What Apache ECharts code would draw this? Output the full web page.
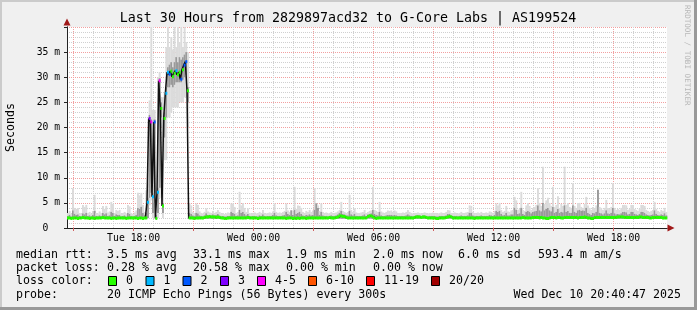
<!DOCTYPE html>
<html><head><meta charset="utf-8">
<script src="https://cdn.jsdelivr.net/npm/echarts@6/dist/echarts.min.js"></script>
<style>html,body{margin:0;padding:0;background:#f0f0f0;}#c{width:697px;height:310px;}</style>
</head><body><div id="c"></div>
<script>
// ---- sampling schedule (minutes from Tue 00:00) ----
const START_MIN = 880;   // Tue 14:40
const STEP_MIN = 5;      // 300 s probe step
const X_MIN = 880, X_MAX = 2680;

// ---- tick labels / grid positions ----
const xLabelValues = [1080, 1440, 1800, 2160, 2520];
const xLabelTexts = ['Tue 18:00', 'Wed 00:00', 'Wed 06:00', 'Wed 12:00', 'Wed 18:00'];
const majorGridX = [900, 1080, 1260, 1440, 1620, 1800, 1980, 2160, 2340, 2520];
const minorGridX = [900, 960, 1020, 1080, 1140, 1200, 1260, 1320, 1380, 1440, 1500, 1560, 1620, 1680, 1740,
  1800, 1860, 1920, 1980, 2040, 2100, 2160, 2220, 2280, 2340, 2400, 2460, 2520, 2580, 2640];
const yTickLabels = ['0  ', '5 m', '10 m', '15 m', '20 m', '25 m', '30 m', '35 m'];

// ---- median rtt (ms), one value per 5-minute step ----
const median = [
  2.0,2.0,1.9,2.0,2.0,2.0,1.9,2.0,2.0,2.1,2.0,2.0,2.0,1.9,2.0,2.0,1.9,2.0,2.0,2.0,
  2.0,2.1,2.0,2.0,2.0,2.0,1.9,2.0,2.0,1.9,2.0,2.0,2.0,2.0,2.0,1.9,2.0,2.0,2.0,2.0,
  2.0,2.0,1.9,2.0,2.0,1.9,2.0,2.0,5.1,21.8,21.1,6.2,21.1,1.9,7.1,29.3,23.8,4.4,21.8,26.8,
  31.0,30.6,31.2,30.1,30.8,31.3,30.5,31.0,29.6,31.5,32.4,33.1,27.3,2.0,2.0,2.0,1.9,2.0,2.0,2.0,
  2.0,2.0,2.1,2.2,2.2,2.3,2.2,2.2,2.2,2.1,2.2,2.1,2.0,2.0,1.9,1.9,2.0,2.0,2.0,2.0,
  2.0,2.0,2.0,2.0,2.0,2.0,2.0,2.0,2.1,2.0,2.0,2.0,2.0,2.0,1.9,2.0,2.0,2.0,2.0,2.0,
  2.0,2.0,2.0,2.0,2.0,2.0,2.0,2.0,2.0,2.0,2.0,1.9,2.0,2.0,2.0,1.9,2.0,1.9,2.0,1.9,
  2.0,2.0,2.0,1.9,2.0,2.0,2.0,2.0,2.0,2.0,2.0,2.0,2.0,2.0,2.0,2.0,2.0,2.1,2.0,2.0,
  2.0,2.1,2.2,2.4,2.4,2.3,2.3,2.1,2.0,2.0,2.0,2.0,2.0,2.0,2.0,2.0,2.0,2.0,2.0,2.0,
  2.3,2.4,2.4,2.2,2.0,1.9,2.0,2.0,2.0,2.0,2.0,2.0,2.0,2.0,2.0,2.0,2.0,2.0,2.0,2.0,
  2.0,2.0,2.0,2.0,2.0,2.0,2.0,2.0,2.1,2.2,2.2,2.2,2.1,2.2,2.2,2.1,2.0,2.0,2.0,2.0,
  2.0,1.9,1.9,2.0,2.0,2.0,2.0,2.1,2.2,2.3,2.2,2.0,2.0,2.0,2.0,2.0,2.0,2.0,2.0,2.0,
  2.0,2.0,2.0,2.0,1.9,2.0,2.0,2.0,2.0,2.0,2.0,2.0,2.0,2.0,2.0,2.0,2.0,2.0,2.0,2.0,
  2.0,2.0,2.0,2.0,2.0,2.0,2.0,2.0,2.0,2.0,2.0,2.0,2.0,2.1,2.0,2.0,2.0,2.0,2.0,2.1,
  2.1,2.1,2.1,2.0,2.1,2.0,2.0,1.9,1.9,2.0,2.1,2.1,2.1,2.0,2.1,2.1,2.0,2.0,2.1,2.1,
  2.1,2.1,2.1,2.1,2.1,2.1,2.0,2.1,2.1,2.1,2.2,2.1,2.0,2.0,1.9,1.9,2.1,2.1,2.1,2.1,
  2.1,2.1,2.1,2.1,2.1,2.1,2.1,2.1,2.1,2.1,2.2,2.2,2.2,2.2,2.1,2.1,2.1,2.1,2.1,2.1,
  2.1,2.1,2.1,2.2,2.2,2.1,2.1,2.1,2.1,2.0,2.0,2.1,2.1,2.1,2.1,2.1,2.1,2.0,2.0,2.0
];

// ---- lost pings out of 20 per step ----
const lost = [
  0,0,0,0,0,0,0,0,0,0,0,0,0,0,0,0,0,0,0,0,
  0,0,0,0,0,0,0,0,0,0,0,0,0,0,0,0,0,0,0,0,
  0,0,0,0,0,0,0,0,1,3,4,1,2,0,1,4,0,0,0,1,
  1,2,0,0,0,1,0,0,2,0,2,2,0,0,0,0,0,0,0,0,
  0,0,0,0,0,0,0,0,0,0,0,0,0,0,0,0,0,0,0,0,
  0,0,0,0,0,0,0,0,0,0,0,0,0,0,0,0,0,0,0,0,
  0,0,0,0,0,0,0,0,0,0,0,0,0,0,0,0,0,0,0,0,
  0,0,0,0,0,0,0,0,0,0,0,0,0,0,0,0,0,0,0,0,
  0,0,0,0,0,0,0,0,0,0,0,0,0,0,0,0,0,0,0,0,
  0,0,0,0,0,0,0,0,0,0,0,0,0,0,0,0,0,0,0,0,
  0,0,0,0,0,0,0,0,0,0,0,0,0,0,0,0,0,0,0,0,
  0,0,0,0,0,0,0,0,0,0,0,0,0,0,0,0,0,0,0,0,
  0,0,0,0,0,0,0,0,0,0,0,0,0,0,0,0,0,0,0,0,
  0,0,0,0,0,0,0,0,0,0,0,0,0,0,0,0,0,0,0,0,
  0,0,0,0,0,0,0,0,0,0,0,0,0,0,0,0,0,0,0,0,
  0,0,0,0,0,0,0,0,0,0,0,0,0,0,0,0,0,0,0,0,
  0,0,0,0,0,0,0,0,0,0,0,0,0,0,0,0,0,0,0,0,
  0,0,0,0,0,0,0,0,0,0,0,0,0,0,0,0,0,0,0,0
];

// ---- smoke: outer (light) band bottom/top, ms ----
const smokeLo = [
  1.8,1.8,1.8,1.8,1.8,1.8,1.8,1.8,1.8,1.8,1.8,1.8,1.8,1.8,1.8,1.8,1.8,1.8,1.8,1.8,
  1.8,1.8,1.8,1.8,1.8,1.8,1.8,1.8,1.8,1.8,1.8,1.8,1.8,1.8,1.8,1.8,1.8,1.8,1.8,1.8,
  1.8,1.8,1.8,1.8,1.8,1.8,1.8,1.8,1.9,4.5,5.5,2.0,5.0,1.8,2.0,6.0,20,2.0,13.5,13.5,
  22,22,23,24,24,24,24,25,25,25,26,26,20,1.8,1.8,1.8,1.8,1.8,1.8,1.8,
  1.8,1.8,1.8,1.8,1.8,1.8,1.8,1.8,1.8,1.8,1.8,1.8,1.8,1.8,1.8,1.8,1.8,1.8,1.8,1.8,
  1.8,1.8,1.8,1.8,1.8,1.8,1.8,1.8,1.8,1.8,1.8,1.8,1.8,1.8,1.8,1.8,1.8,1.8,1.8,1.8,
  1.8,1.8,1.8,1.8,1.8,1.8,1.8,1.8,1.8,1.8,1.8,1.8,1.8,1.8,1.8,1.8,1.8,1.8,1.8,1.8,
  1.8,1.8,1.8,1.8,1.8,1.8,1.8,1.8,1.8,1.8,1.8,1.8,1.8,1.8,1.8,1.8,1.8,1.8,1.8,1.8,
  1.8,1.8,1.8,1.8,1.8,1.8,1.8,1.8,1.8,1.8,1.8,1.8,1.8,1.8,1.8,1.8,1.8,1.8,1.8,1.8,
  1.8,1.8,1.8,1.8,1.8,1.8,1.8,1.8,1.8,1.8,1.8,1.8,1.8,1.8,1.8,1.8,1.8,1.8,1.8,1.8,
  1.8,1.8,1.8,1.8,1.8,1.8,1.8,1.8,1.8,1.8,1.8,1.8,1.8,1.8,1.8,1.8,1.8,1.8,1.8,1.8,
  1.8,1.8,1.8,1.8,1.8,1.8,1.8,1.8,1.8,1.8,1.8,1.8,1.8,1.8,1.8,1.8,1.8,1.8,1.8,1.8,
  1.8,1.8,1.8,1.8,1.8,1.8,1.8,1.8,1.8,1.8,1.8,1.8,1.8,1.8,1.8,1.8,1.8,1.8,1.8,1.8,
  1.8,1.8,1.8,1.8,1.8,1.8,1.8,1.8,1.8,1.8,1.8,1.8,1.8,1.8,1.8,1.8,1.8,1.8,1.8,1.8,
  1.8,1.8,1.8,1.8,1.8,1.8,1.8,1.8,1.8,1.8,1.8,1.8,1.8,1.8,1.8,1.8,1.8,1.8,1.8,1.8,
  1.8,1.8,1.8,1.8,1.8,1.8,1.8,1.8,1.8,1.8,1.8,1.8,1.8,1.8,1.8,1.8,1.8,1.8,1.8,1.8,
  1.8,1.8,1.8,1.8,1.8,1.8,1.8,1.8,1.8,1.8,1.8,1.8,1.8,1.8,1.8,1.8,1.8,1.8,1.8,1.8,
  1.8,1.8,1.8,1.8,1.8,1.8,1.8,1.8,1.8,1.8,1.8,1.8,1.8,1.8,1.8,1.8,1.8,1.8,1.8,1.8
];
const smokeHi = [
  3.0,3.4,2.8,7.9,4.0,3.8,4.0,3.0,2.9,4.6,4.2,4.6,3.0,3.2,2.8,3.4,6.6,3.0,2.9,3.3,
  3.0,4.4,3.8,4.4,3.1,3.3,5.2,4.8,3.0,3.6,3.4,3.6,2.9,3.0,3.2,2.9,4.6,4.3,3.0,2.8,
  3.1,3.5,7.0,6.5,7.0,4.6,3.2,7.5,9.0,25.4,40,23.5,23.5,5.0,30,31,26,26,27,36,
  40,36,38,35.5,40,36,40,37,40,36,40,37,35,4.9,4.5,3.2,3.0,4.9,4.6,3.3,
  3.0,2.9,3.2,3.9,3.3,3.1,3.0,3.4,3.0,3.2,3.6,3.2,2.9,3.0,2.8,2.9,3.1,3.0,4.9,4.9,
  4.2,3.0,3.2,7.2,4.5,5.0,4.0,3.2,3.9,3.0,2.9,3.0,3.1,2.9,3.0,3.2,3.0,3.6,3.0,2.9,
  3.0,3.1,3.0,3.3,4.9,3.2,3.0,3.1,3.0,3.2,3.4,4.9,3.5,3.2,3.6,3.3,8.2,3.8,4.5,4.4,
  4.0,3.2,3.0,3.4,3.2,3.6,3.2,3.5,7.9,4.9,4.5,3.4,4.9,3.2,3.0,3.1,2.9,3.0,3.2,3.0,
  3.0,3.1,3.3,3.6,5.2,3.4,3.2,3.0,3.2,6.6,3.6,3.2,3.9,3.1,3.0,3.0,3.1,3.2,3.6,3.0,
  3.2,3.4,3.5,8.2,3.6,3.4,3.2,5.2,3.3,3.1,3.0,3.2,3.5,3.4,3.5,3.2,3.5,3.3,3.0,3.0,
  3.0,3.1,3.0,3.2,3.6,3.2,3.0,2.9,3.0,3.0,3.1,3.0,2.9,3.0,3.1,3.0,2.9,3.0,3.0,3.1,
  3.0,3.0,2.9,3.0,3.1,3.0,3.0,3.2,3.6,3.5,3.0,3.0,3.1,3.0,2.9,3.0,3.2,3.0,3.0,3.1,
  3.2,4.5,4.4,3.2,3.0,3.0,3.1,3.0,3.2,3.0,3.0,3.1,3.0,3.3,3.2,3.0,3.4,4.9,4.5,5.0,
  3.6,3.2,3.4,4.4,3.3,3.2,3.5,3.6,6.2,5.5,3.6,3.8,7.2,3.6,3.4,4.5,5.0,4.4,3.6,4.0,
  4.2,4.6,7.9,5.0,4.4,12.2,4.8,5.5,6.0,5.0,4.4,8.2,4.2,4.6,6.3,4.0,4.8,4.4,12.2,4.6,
  5.0,4.2,4.0,8.9,4.4,4.0,5.0,5.0,4.2,4.0,4.8,6.2,4.5,4.0,3.6,4.2,4.0,4.5,7.6,4.2,
  4.0,3.6,4.0,5.6,4.0,3.8,4.2,8.9,4.0,3.6,3.8,3.6,4.0,4.6,4.6,4.5,3.6,3.8,4.6,4.6,
  3.8,3.6,3.4,3.8,4.6,4.6,4.4,3.6,3.4,3.2,3.4,3.6,5.2,3.8,3.4,3.2,3.6,3.4,4.0,3.2
];

// ---- smoke: inner (dense) band bottom/top, ms ----
const denseLo = [
  1.85,1.85,1.85,1.85,1.85,1.85,1.85,1.85,1.85,1.85,1.85,1.85,1.85,1.85,1.85,1.85,1.85,1.85,1.85,1.85,
  1.85,1.85,1.85,1.85,1.85,1.85,1.85,1.85,1.85,1.85,1.85,1.85,1.85,1.85,1.85,1.85,1.85,1.85,1.85,1.85,
  1.85,1.85,1.85,1.85,1.85,1.85,1.85,1.85,2.0,6,7,3,7,1.85,3,8,22,3,18,22,
  28,28,28.5,28,28.5,29,29,29,29,29.5,30,30.5,25,1.85,1.85,1.85,1.85,1.85,1.85,1.85,
  1.85,1.85,1.85,1.85,1.85,1.85,1.85,1.85,1.85,1.85,1.85,1.85,1.85,1.85,1.85,1.85,1.85,1.85,1.85,1.85,
  1.85,1.85,1.85,1.85,1.85,1.85,1.85,1.85,1.85,1.85,1.85,1.85,1.85,1.85,1.85,1.85,1.85,1.85,1.85,1.85,
  1.85,1.85,1.85,1.85,1.85,1.85,1.85,1.85,1.85,1.85,1.85,1.85,1.85,1.85,1.85,1.85,1.85,1.85,1.85,1.85,
  1.85,1.85,1.85,1.85,1.85,1.85,1.85,1.85,1.85,1.85,1.85,1.85,1.85,1.85,1.85,1.85,1.85,1.85,1.85,1.85,
  1.85,1.85,1.85,1.85,1.85,1.85,1.85,1.85,1.85,1.85,1.85,1.85,1.85,1.85,1.85,1.85,1.85,1.85,1.85,1.85,
  1.85,1.85,1.85,1.85,1.85,1.85,1.85,1.85,1.85,1.85,1.85,1.85,1.85,1.85,1.85,1.85,1.85,1.85,1.85,1.85,
  1.85,1.85,1.85,1.85,1.85,1.85,1.85,1.85,1.85,1.85,1.85,1.85,1.85,1.85,1.85,1.85,1.85,1.85,1.85,1.85,
  1.85,1.85,1.85,1.85,1.85,1.85,1.85,1.85,1.85,1.85,1.85,1.85,1.85,1.85,1.85,1.85,1.85,1.85,1.85,1.85,
  1.85,1.85,1.85,1.85,1.85,1.85,1.85,1.85,1.85,1.85,1.85,1.85,1.85,1.85,1.85,1.85,1.85,1.85,1.85,1.85,
  1.85,1.85,1.85,1.85,1.85,1.85,1.85,1.85,1.85,1.85,1.85,1.85,1.85,1.85,1.85,1.85,1.85,1.85,1.85,1.85,
  1.85,1.85,1.85,1.85,1.85,1.85,1.85,1.85,1.85,1.85,1.85,1.85,1.85,1.85,1.85,1.85,1.85,1.85,1.85,1.85,
  1.85,1.85,1.85,1.85,1.85,1.85,1.85,1.85,1.85,1.85,1.85,1.85,1.85,1.85,1.85,1.85,1.85,1.85,1.85,1.85,
  1.85,1.85,1.85,1.85,1.85,1.85,1.85,1.85,1.85,1.85,1.85,1.85,1.85,1.85,1.85,1.85,1.85,1.85,1.85,1.85,
  1.85,1.85,1.85,1.85,1.85,1.85,1.85,1.85,1.85,1.85,1.85,1.85,1.85,1.85,1.85,1.85,1.85,1.85,1.85,1.85
];
const denseHi = [
  2.4,2.6,2.3,3.5,2.8,2.6,2.7,2.4,2.3,2.9,2.7,3.0,2.4,2.5,2.3,2.6,3.4,2.4,2.3,2.5,
  2.4,3.0,2.7,2.9,2.4,2.5,3.2,3.0,2.4,2.7,2.6,2.6,2.3,2.4,2.5,2.3,3.0,2.8,2.4,2.3,
  2.4,2.6,4.0,3.8,4.2,3.0,2.5,3.0,6.0,22.5,21.6,7.0,21.6,2.6,8.0,29.8,25,5,23,28,
  32,32.5,33,32,33,34,33,34,33.5,34,34.5,35,28,3.0,2.8,2.5,2.4,3.0,2.9,2.5,
  2.4,2.3,2.5,2.9,2.6,2.5,2.5,2.7,2.5,2.6,2.8,2.5,2.3,2.4,2.3,2.3,2.4,2.4,3.2,3.0,
  2.8,2.4,2.5,3.6,3.0,3.2,2.8,2.5,2.8,2.4,2.3,2.4,2.4,2.3,2.3,2.5,2.4,2.7,2.4,2.3,
  2.4,2.4,2.4,2.6,3.0,2.5,2.4,2.4,2.4,2.5,2.6,3.2,2.8,2.6,3.5,2.6,3.6,2.8,3.0,3.2,
  2.8,2.5,2.4,2.6,2.5,2.7,2.5,2.6,3.6,4.9,4.0,2.6,3.2,2.5,2.4,2.4,2.3,2.4,2.5,2.4,
  2.4,2.5,2.7,3.0,3.4,2.8,2.7,2.5,2.5,3.4,2.7,2.5,2.8,2.4,2.4,2.4,2.4,2.5,2.7,2.4,
  2.7,2.8,2.9,3.6,2.8,2.6,2.5,3.2,2.5,2.4,2.4,2.5,2.6,2.6,2.6,2.5,2.6,2.5,2.4,2.4,
  2.4,2.4,2.4,2.5,2.7,2.5,2.4,2.3,2.4,2.5,2.6,2.5,2.4,2.5,2.5,2.4,2.3,2.4,2.4,2.4,
  2.4,2.3,2.3,2.4,2.4,2.4,2.4,2.5,2.8,2.8,2.5,2.4,2.4,2.4,2.3,2.4,2.5,2.4,2.4,2.4,
  2.5,3.0,3.0,2.5,2.4,2.4,2.4,2.4,2.5,2.4,2.4,2.4,2.4,2.6,2.5,2.4,2.6,3.4,3.2,3.4,
  2.8,2.5,2.6,3.0,2.5,2.5,2.7,2.7,4.0,3.6,2.8,2.9,4.0,2.8,2.6,3.2,3.4,3.2,2.9,3.2,
  3.3,3.4,4.5,3.5,3.3,5.0,3.5,3.8,4.0,3.5,3.3,4.2,3.0,3.2,3.8,3.0,3.2,3.1,4.5,3.2,
  3.4,3.0,3.0,4.5,3.2,3.0,3.5,3.6,3.4,3.5,3.4,4.0,3.0,2.8,2.6,3.0,2.9,3.2,7.6,3.0,
  2.9,2.7,2.9,3.5,2.9,2.8,3.0,4.0,2.9,2.7,2.8,2.7,2.9,3.2,3.2,3.1,2.7,2.8,3.2,3.2,
  2.8,2.7,2.6,2.8,3.2,3.2,3.0,2.7,2.6,2.5,2.6,2.7,3.5,2.8,2.6,2.5,2.7,2.6,2.9,2.5
];

// ---- legend ----
const lossLabels = ['0', '1', '2', '3', '4-5', '6-10', '11-19', '20/20'];
const lossColors = ['#26ff00', '#00b8ff', '#0059ff', '#7e00ff', '#ff00ff', '#ff5500', '#ff0000', '#a10000'];
const titleText = 'Last 30 Hours from 2829897acd32 to G-Core Labs | AS199524';
const rttStats = ['3.5 ms avg', '33.1 ms max', '1.9 ms min', '2.0 ms now', '6.0 ms sd', '593.4 m am/s'];
const lossStats = ['0.28 % avg', '20.58 % max', '0.00 % min', '0.00 % now'];
const probeText = '20 ICMP Echo Pings (56 Bytes) every 300s';
const stampText = 'Wed Dec 10 20:40:47 2025';

// ---- build ----
const MONO = '"DejaVu Sans Mono", monospace';
const times = median.map((_, i) => START_MIN + i * STEP_MIN);
function lossBin(n) {
  if (n === 0) return 0; if (n === 1) return 1; if (n === 2) return 2; if (n === 3) return 3;
  if (n <= 5) return 4; if (n <= 10) return 5; if (n < 20) return 6; return 7;
}
const smokeData = times.map((t, i) => [t, smokeLo[i], smokeHi[i], denseLo[i], denseHi[i]]);
const medLine = times.map((t, i) => [t + STEP_MIN / 2, median[i]]);
const dashData = times.map((t, i) => [t, median[i], lost[i]]);

function smokeRender(params, api) {
  const t = api.value(0);
  const a = api.coord([t, api.value(2)]);
  const b = api.coord([t + STEP_MIN, api.value(1)]);
  const c = api.coord([t, api.value(4)]);
  const d = api.coord([t + STEP_MIN, api.value(3)]);
  return { type: 'group', children: [
    { type: 'rect', shape: { x: a[0], y: a[1], width: b[0] - a[0] + 0.25, height: b[1] - a[1] }, style: { fill: '#dbdbdb' } },
    { type: 'rect', shape: { x: c[0], y: c[1], width: d[0] - c[0] + 0.25, height: d[1] - c[1] }, style: { fill: '#9a9a9a' } }
  ]};
}
function dashRender(params, api) {
  const t = api.value(0);
  const a = api.coord([t, api.value(1)]);
  const b = api.coord([t + STEP_MIN, api.value(1)]);
  return { type: 'rect', shape: { x: a[0], y: a[1] - 1.5, width: b[0] - a[0] + 0.3, height: 3 },
    style: { fill: lossColors[lossBin(api.value(2))] } };
}

function txt(x, y, s, opts) {
  opts = opts || {};
  return { type: 'text', x: x, y: y, rotation: opts.rotation || 0, silent: true, z: 100,
    style: { text: s, fill: opts.fill || '#000', font: (opts.size || 11.6) + 'px ' + MONO,
      align: opts.align || 'left', verticalAlign: 'middle', textAlign: opts.align || 'left', textVerticalAlign: 'middle' } };
}
const graphics = [
  { type: 'rect', shape: { x: 0, y: 0, width: 697, height: 2 }, style: { fill: '#cbcbcb' }, silent: true },
  { type: 'rect', shape: { x: 0, y: 0, width: 2, height: 310 }, style: { fill: '#cbcbcb' }, silent: true },
  { type: 'rect', shape: { x: 0, y: 307, width: 697, height: 3 }, style: { fill: '#999' }, silent: true },
  { type: 'rect', shape: { x: 694, y: 0, width: 3, height: 310 }, style: { fill: '#999' }, silent: true },
  txt(348, 19, titleText, { size: 13.3, align: 'center' }),
  txt(687, 5, 'RRDTOOL / TOBI OETIKER', { size: 7.6, fill: '#b8b8b8', rotation: -Math.PI / 2 }),
  txt(16, 255, 'median rtt:'),
  txt(16, 268, 'packet loss:'),
  txt(16, 281, 'loss color:'),
  txt(16, 295, 'probe:'),
  txt(107, 295, probeText),
  txt(681, 295, stampText, { align: 'right' })
];
const rttX = [107, 193, 286, 373, 458, 538];
rttStats.forEach((s, i) => graphics.push(txt(rttX[i], 255, s)));
const lossX = [107, 193, 286, 373];
lossStats.forEach((s, i) => graphics.push(txt(lossX[i], 268, s)));
const boxX = [108, 145.5, 182.5, 220, 257, 308, 366, 431];
lossLabels.forEach((s, i) => {
  graphics.push({ type: 'rect', silent: true, z: 100, shape: { x: boxX[i] + 0.5, y: 276.5, width: 8, height: 9 },
    style: { fill: lossColors[i], stroke: '#000', lineWidth: 1 } });
  graphics.push(txt(boxX[i] + 18, 281, s));
});

const chart = echarts.init(document.getElementById('c'), null, { renderer: 'canvas' });
chart.setOption({
  animation: false,
  backgroundColor: '#f0f0f0',
  grid: { left: 67, right: 30, top: 27, bottom: 82, show: true, backgroundColor: '#ffffff', borderWidth: 0,
    containLabel: false, outerBoundsMode: 'none' },
  xAxis: [
    { type: 'value', position: 'bottom', min: X_MIN, max: X_MAX,
      axisLine: { show: true, lineStyle: { color: '#a01818', width: 1 }, symbol: ['none', 'triangle'], symbolSize: [7, 7], symbolOffset: [0, 4] },
      axisTick: { show: false, customValues: minorGridX }, axisLabel: { show: false },
      splitLine: { show: true, lineStyle: { color: '#d0d0d0', type: [1, 1], width: 1 } } },
    { type: 'value', position: 'bottom', min: X_MIN, max: X_MAX,
      axisLine: { show: true, lineStyle: { color: '#222', width: 1 } },
      axisTick: { show: true, customValues: majorGridX, length: 3, lineStyle: { color: '#d06060' } },
      axisLabel: { show: true, customValues: xLabelValues, margin: 5, fontFamily: MONO, fontSize: 9.8, color: '#000',
        formatter: v => xLabelTexts[xLabelValues.indexOf(v)] || '' },
      splitLine: { show: true, lineStyle: { color: '#f2a0a0', type: [1, 1], width: 1 } } }
  ],
  yAxis: [
    { type: 'value', position: 'left', min: 0, max: 40, interval: 5,
      axisLine: { show: true, lineStyle: { color: '#a01818', width: 1 }, symbol: ['none', 'triangle'], symbolSize: [7, 7], symbolOffset: [0, 5] },
      axisTick: { show: false }, axisLabel: { show: false }, splitLine: { show: false } },
    { type: 'value', position: 'left', min: 0, max: 40, interval: 5,
      axisLine: { show: true, lineStyle: { color: '#222', width: 1 } },
      axisTick: { show: true, length: 3, lineStyle: { color: '#222' } },
      axisLabel: { margin: 7, fontFamily: MONO, fontSize: 9.7, color: '#000',
        formatter: v => yTickLabels[Math.round(v / 5)] || '' },
      splitLine: { show: true, lineStyle: { color: '#f2a0a0', type: [1, 1], width: 1 } },
      minorTick: { show: false, splitNumber: 5 },
      minorSplitLine: { show: true, lineStyle: { color: '#d0d0d0', type: [1, 1], width: 1 } },
      name: 'Seconds', nameLocation: 'middle', nameGap: 50, nameRotate: 90,
      nameTextStyle: { fontFamily: MONO, fontSize: 11.6, color: '#000' } }
  ],
  series: [
    { type: 'custom', name: 'smoke', xAxisIndex: 1, yAxisIndex: 1, z: 2, silent: true,
      renderItem: smokeRender, encode: { x: 0, y: [1, 2] }, data: smokeData },
    { type: 'line', name: 'median', xAxisIndex: 1, yAxisIndex: 1, z: 3, silent: true, step: 'middle',
      symbol: 'none', lineStyle: { color: '#111', width: 1.5 }, data: medLine },
    { type: 'custom', name: 'loss', xAxisIndex: 1, yAxisIndex: 1, z: 4, silent: true,
      renderItem: dashRender, encode: { x: 0, y: 1 }, data: dashData }
  ],
  graphic: graphics
});
</script></body></html>
